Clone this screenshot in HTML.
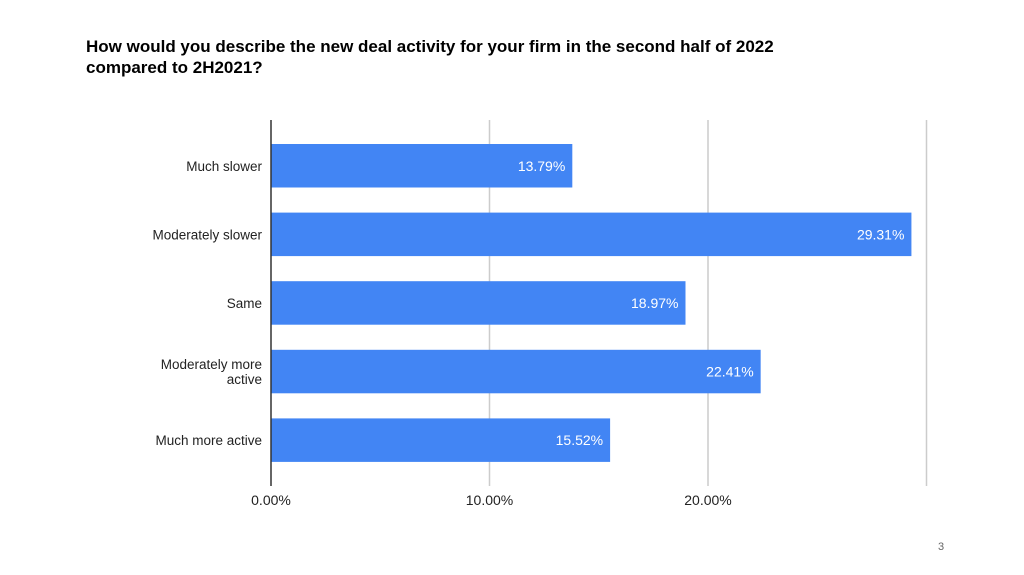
<!DOCTYPE html>
<html><head><meta charset="utf-8"><style>
body{margin:0;background:#fff;font-family:"Liberation Sans",Arial,sans-serif;}
#wrap{position:relative;width:1024px;height:575px;overflow:hidden;}
#title{position:absolute;left:86px;top:36px;font-size:17px;font-weight:bold;line-height:21px;color:#000;}
#pnum{position:absolute;left:938px;top:541px;font-size:11px;color:#666;}
</style></head><body>
<div id="wrap">
<div id="title">How would you describe the new deal activity for your firm in the second half of 2022<br>compared to 2H2021?</div>
<svg id="chart" width="1024" height="575" style="position:absolute;left:0;top:0"></svg>
<div id="pnum">3</div>
</div>
<script>
const categories=[["Much slower"],["Moderately slower"],["Same"],["Moderately more","active"],["Much more active"]];
const values=[13.79,29.31,18.97,22.41,15.52];
const ticks=[0,10,20,30];
const tickLabels=["0.00%","10.00%","20.00%",""];
const NS="http://www.w3.org/2000/svg";
const svg=document.getElementById('chart');
const x0=271,pxPer=21.85,top0=144,pitch=68.6,bh=43.5;
const x=v=>x0+v*pxPer;
const y=i=>top0+i*pitch;
function mk(t,a){const e=document.createElementNS(NS,t);for(const k in a)e.setAttribute(k,a[k]);svg.appendChild(e);return e;}
ticks.forEach((t,i)=>{
 if(t>0){const g=mk('line',{x1:x(t),x2:x(t),y1:120,y2:486,stroke:'#ccc','stroke-width':1.5});
 
 }
 const l=mk('text',{x:x(t),y:505,'text-anchor':'middle','font-size':14,fill:'#222'});
 l.textContent=tickLabels[i];
 
 
});
values.forEach((v,i)=>{
 const r=mk('rect',{x:x0,y:y(i),width:x(v)-x0,height:bh,fill:'#4285f4'});
 
 
 const t=mk('text',{x:x(v)-7,y:y(i)+bh/2+5,'text-anchor':'end','font-size':14,fill:'#fff'});
 t.textContent=v.toFixed(2)+'%';
 
 
 const lines=categories[i];
 lines.forEach((s,j)=>{
  const c=mk('text',{x:262,y:y(i)+bh/2+5+(j-(lines.length-1)/2)*15,'text-anchor':'end','font-size':13.5,fill:'#222'});
  c.textContent=s;
  
  
 });
});
const ax=mk('line',{x1:x0,x2:x0,y1:120,y2:486,stroke:'#333','stroke-width':1.5});


</script>
</body></html>
